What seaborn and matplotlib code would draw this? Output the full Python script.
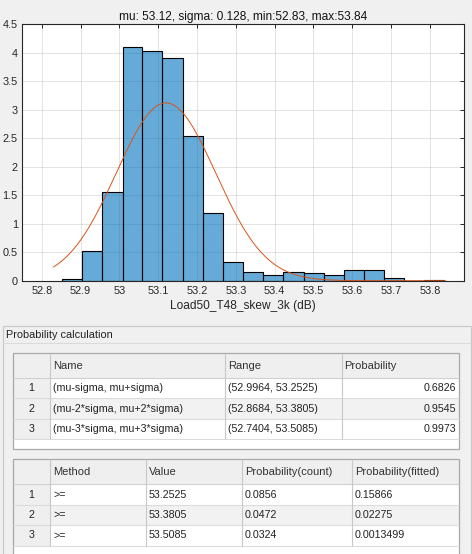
import numpy as np
import matplotlib
matplotlib.use("Agg")
import matplotlib.pyplot as plt
import seaborn as sns
from matplotlib.patches import Rectangle

# ---------------- data ----------------
mu = 53.12
sigma = 0.128
data_min = 52.83
data_max = 53.84

bin_edges = [52.852, 52.904, 52.956, 53.008, 53.059, 53.111, 53.164, 53.215,
             53.268, 53.318, 53.371, 53.422, 53.476, 53.527, 53.578, 53.630,
             53.682, 53.733, 53.785, 53.837]
bin_density = [0.024, 0.52, 1.55, 4.09, 4.035, 3.91, 2.54, 1.19, 0.32,
               0.147, 0.094, 0.147, 0.13, 0.10, 0.18, 0.18, 0.042, 0.0, 0.008]

x_ticks = [52.8, 52.9, 53.0, 53.1, 53.2, 53.3, 53.4, 53.5, 53.6, 53.7, 53.8]
x_tick_labels = ["52.8", "52.9", "53", "53.1", "53.2", "53.3", "53.4", "53.5",
                 "53.6", "53.7", "53.8"]
y_ticks = [0, 0.5, 1, 1.5, 2, 2.5, 3, 3.5, 4, 4.5]
y_tick_labels = ["0", "0.5", "1", "1.5", "2", "2.5", "3", "3.5", "4", "4.5"]

title_text = "mu: 53.12, sigma: 0.128, min:52.83, max:53.84"
x_label = "Load50_T48_skew_3k (dB)"
panel_title = "Probability calculation"

t1_header = ["", "Name", "Range", "Probability"]
t1_rownum = ["1", "2", "3"]
t1_name = ["(mu-sigma, mu+sigma)", "(mu-2*sigma, mu+2*sigma)", "(mu-3*sigma, mu+3*sigma)"]
t1_range = ["(52.9964, 53.2525)", "(52.8684, 53.3805)", "(52.7404, 53.5085)"]
t1_prob = ["0.6826", "0.9545", "0.9973"]

t2_header = ["", "Method", "Value", "Probability(count)", "Probability(fitted)"]
t2_rownum = ["1", "2", "3"]
t2_method = [">=", ">=", ">="]
t2_value = ["53.2525", "53.3805", "53.5085"]
t2_pcount = ["0.0856", "0.0472", "0.0324"]
t2_pfit = ["0.15866", "0.02275", "0.0013499"]

# ---------------- figure ----------------
sns.set_theme(style="white")
plt.rcParams['font.family'] = ['Liberation Sans', 'DejaVu Sans']

W, H = 472, 554
fig = plt.figure(figsize=(W / 100, H / 100), dpi=100)
fig.patch.set_facecolor("#f0f0f0")

# axes position in pixels
ax_l, ax_r, ax_t, ax_b = 22, 464, 24, 280.7
ax = fig.add_axes([ax_l / W, (H - ax_b) / H, (ax_r - ax_l) / W, (ax_b - ax_t) / H])
ax.set_facecolor("white")

centers = [(bin_edges[i] + bin_edges[i + 1]) / 2 for i in range(len(bin_density))]
sns.histplot(x=centers, weights=bin_density, bins=bin_edges, stat="count",
             color="#0072BD", alpha=0.6, edgecolor="black", linewidth=0.8, ax=ax)

fit_x = np.linspace(data_min, data_max, 300)
fit_y = np.exp(-0.5 * ((fit_x - mu) / sigma) ** 2) / (sigma * np.sqrt(2 * np.pi))
sns.lineplot(x=fit_x, y=fit_y, color="#D95319", linewidth=0.7, ax=ax, sort=False)

ax.set_xlim(52.749, 53.888)
ax.set_ylim(0, 4.5)
ax.set_xticks(x_ticks)
ax.set_xticklabels(x_tick_labels)
ax.set_yticks(y_ticks)
ax.set_yticklabels(y_tick_labels)
ax.grid(True, color="#262626", alpha=0.13, linewidth=0.7)
ax.set_axisbelow(True)
ax.tick_params(direction="in", top=True, right=True, length=3, width=0.7,
               colors="#262626", labelsize=7.8, pad=4)
ax.tick_params(axis="y", pad=3)
for s in ax.spines.values():
    s.set_visible(True)
    s.set_color("#262626")
    s.set_linewidth(0.8)
ax.set_ylabel("")
ax.set_xlabel(x_label, fontsize=8.6, color="#262626", labelpad=3)
ax.set_title(title_text, fontsize=8.6, color="#111111", pad=3)

# ---------------- panel with tables (pixel coords) ----------------
ov = fig.add_axes([0, 0, 1, 1], zorder=-1)
ov.set_xlim(0, W)
ov.set_ylim(H, 0)
ov.axis("off")
ov.patch.set_alpha(0)

def rect(x0, y0, x1, y1, fc="none", ec="none", lw=0.8):
    ov.add_patch(Rectangle((x0, y0), x1 - x0, y1 - y0, facecolor=fc,
                           edgecolor=ec, linewidth=lw))

def hline(y, x0, x1, c, lw=0.8):
    ov.plot([x0, x1], [y, y], color=c, linewidth=lw, solid_capstyle="butt")

def vline(x, y0, y1, c, lw=0.8):
    ov.plot([x, x], [y0, y1], color=c, linewidth=lw, solid_capstyle="butt")

# panel
rect(2.7, 326, 470.5, 560, fc="#f0f0f0", ec="#c8c8c8", lw=0.8)
hline(343.3, 2.7, 470.5, "#dadada")
ov.text(6, 335, panel_title, fontsize=7.8, color="#222222", va="center", ha="left")

txt_c = "#222222"
fs = 7.7

def draw_table(top, hdr_b, row_bs, bottom, cols, header, rows, aligns, tx_pad):
    left, right = cols[0], cols[-1]
    rect(left, top, right, bottom, fc="white")
    rect(left, top, right, hdr_b, fc="#efefef")
    rect(left, hdr_b, cols[1], row_bs[-1], fc="#efefef")
    rect(cols[1], row_bs[0], right, row_bs[1], fc="#f2f2f2")
    hline(hdr_b, left, right, "#d0d0d0")
    for yb in row_bs:
        hline(yb, left, right, "#dcdcdc")
    for xc in cols[1:-1]:
        vline(xc, top, row_bs[-1], "#c8c8c8")
    rect(left, top, right, bottom, ec="#a8a8a8", lw=0.9)
    for j, h in enumerate(header):
        if h:
            ov.text(cols[j] + tx_pad, (top + hdr_b) / 2, h, fontsize=fs + 0.3,
                    color="#333333", va="center", ha="left")
    row_tops = [hdr_b] + row_bs[:-1]
    for i, row in enumerate(rows):
        yc = (row_tops[i] + row_bs[i]) / 2
        for j, val in enumerate(row):
            if aligns[j] == "center":
                ov.text((cols[j] + cols[j + 1]) / 2, yc, val, fontsize=fs,
                        color=txt_c, va="center", ha="center")
            elif aligns[j] == "right":
                ov.text(cols[j + 1] - 3, yc, val, fontsize=fs,
                        color=txt_c, va="center", ha="right")
            else:
                ov.text(cols[j] + tx_pad, yc, val, fontsize=fs,
                        color=txt_c, va="center", ha="left")

rows1 = [[t1_rownum[i], t1_name[i], t1_range[i], t1_prob[i]] for i in range(3)]
draw_table(353.3, 378.3, [398.3, 419.0, 439.0], 449.3,
           [12.7, 50, 225, 341.7, 459], t1_header, rows1,
           ["center", "left", "left", "right"], 2.7)

rows2 = [[t2_rownum[i], t2_method[i], t2_value[i], t2_pcount[i], t2_pfit[i]]
         for i in range(3)]
draw_table(459.3, 484.0, [505.0, 525.0, 545.7], 560,
           [12.7, 50, 145.7, 241.7, 351.7, 459], t2_header, rows2,
           ["center", "left", "left", "left", "left"], 3.0)

fig.savefig("out.png", dpi=100, facecolor=fig.get_facecolor())
